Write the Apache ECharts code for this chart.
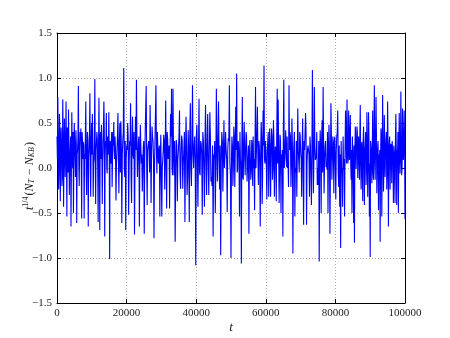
<!DOCTYPE html>
<html>
<head>
<meta charset="utf-8">
<script src="https://cdn.jsdelivr.net/npm/echarts@6/dist/echarts.min.js"></script>
<style>
html,body{margin:0;padding:0;background:#fff;}
#chart{width:450px;height:338px;}
</style>
</head>
<body>
<div id="chart"></div>
<script>
// values, one array per sixth of the t range
// segN = spike tips, coreN = the dense band between the spikes
var tMax = 100000;
var yTicks = [-1.5, -1.0, -0.5, 0.0, 0.5, 1.0, 1.5];
var xTicks = [0, 20000, 40000, 60000, 80000, 100000];
var seg1 = [0.35,0.79,-0.24,0.6,-0.37,0.45,-0.2,0.76,-0.43,0.55,-0.1,0.74,-0.54,0.3,0.65,-0.3,0.2,-0.65,0.62,0.0,-0.5,0.5,0.1,0.42,-0.61,0.2,0.91,-0.2,0.4,0.44,-0.56,0.3,0.29,-0.56,0.1,0.74,-0.3,0.4,-0.65,0.2,0.83,-0.32,0.5,0.6,-0.32,0.1,0.99,-0.4,0.3,0.31,-0.6,0.78,-0.69,0.4,0.48,-0.4,0.2,0.74,-0.76,0.3,0.61,-0.06,0.3,0.62,-1.01,0.2,0.28,-0.21,0.4,0.51,0.1];
var seg2 = [0.35,-0.36,0.2,0.61,-0.28,0.5,0.52,-0.61,0.3,1.11,-0.1,-0.69,0.25,0.5,-0.52,0.3,0.72,-0.39,0.57,0.1,-0.74,0.57,0.98,-0.1,0.3,-0.65,0.48,0.05,-0.26,0.23,-0.73,0.4,0.91,-0.41,0.2,0.2,0.7,-0.39,0.46,0.3,-0.78,0.3,0.92,-0.06,0.18,0.2,-0.54,0.37,-0.54,0.1,0.37,-0.24,0.75,-0.45,0.33,0.1,-0.45,0.6,0.88,-0.08];
var seg3 = [0.88,-0.08,-0.82,0.31,-0.37,0.2,0.64,-0.23,0.36,-0.23,0.2,-0.6,0.57,-0.3,0.42,-0.6,0.72,-0.2,0.92,0.0,0.35,-1.08,0.48,-0.43,0.77,-0.08,0.27,-0.52,0.31,-0.43,0.7,-0.3,0.6,-0.3,0.62,-0.15,-0.2,-0.76,0.1,-0.5,0.88,-0.15,0.74,-0.24,-0.97,0.4,-0.26,0.53,0.13,0.2,-0.49,0.33,0.92,-0.08];
var seg4 = [-1.0,0.35,-0.2,0.46,-0.21,0.68,1.05,-0.02,0.27,-0.54,0.09,-1.06,0.79,-0.13,0.51,-0.08,0.4,-0.15,-0.02,-0.73,0.31,-0.13,0.31,-0.2,0.0,-0.47,0.9,0.0,0.68,-0.19,0.24,-0.65,0.51,-0.4,0.64,1.14,0.05,0.18,-0.35,0.18,-0.32,0.44,-0.32,0.44,-0.13,0.53,-0.32,0.24,-0.37,0.88,0.76,-0.39,0.37,-0.5,0.0,-0.76,0.98,0.0,0.42,0.01,0.0,-0.21];
var seg5 = [0.92,0.4,-0.21,0.55,-0.95,0.1,-0.54,-0.05,-0.32,0.66,0.2,0.4,0.16,-0.32,0.55,-0.63,0.2,0.61,-0.63,0.2,0.2,-0.32,0.24,-0.41,1.09,-0.28,0.9,0.09,0.13,-0.19,-0.19,-1.04,0.42,-0.5,0.53,0.9,-0.28,0.24,0.01,-0.02,-0.5,0.48,-0.73,0.72,-0.13,0.35,-0.28,0.35,-0.35,0.35,0.64,-0.21,-0.43,-0.89,-0.06,-0.43,-0.02,-0.54,0.64,0.05];
var seg6 = [0.76,0.05,0.64,0.09,0.59,-0.13,-0.5,0.2,-0.61,-0.83,0.46,-0.01,0.46,-0.11,0.35,-0.13,0.7,-0.24,0.29,-0.37,0.46,-0.41,0.25,-0.19,0.62,-0.32,0.62,-0.54,-0.99,0.24,-0.17,0.64,-0.13,0.92,-0.13,0.79,-0.28,0.22,-0.47,-0.13,-0.82,0.44,-0.54,0.81,-0.26,0.59,-0.1,0.22,-0.24,0.74,-0.65,0.29,-0.24,0.27,-0.17,0.29,-0.39,0.18,-0.39,0.6,-0.41,0.16,-0.5,0.61,-0.06,0.85,-0.08,0.66,0.09,0.64,-0.57];
var core1 = [0.1,0.3,0.0,0.4,0.15,0.25,-0.1,0.35,0.05,0.2,0.3,0.1,0.45,-0.05,0.25,0.1,0.35,0.0,0.2,0.4,0.1,0.3,-0.1,0.25,0.15,0.35,0.05,0.2,0.3,0.0,0.4,0.1,0.25,0.15,0.35,-0.05,0.2,0.3,0.1,0.4,0.0,0.25,0.15,0.35,0.05,0.3,0.1,0.2,0.4,0.0,0.25,0.15,0.35,0.1,0.3,0.05,0.2,0.4,0.1,0.25,0.0,0.35,0.15,0.2,0.3,0.05,0.4,0.1,0.25,0.2,0.3];
var core2 = [0.2,0.05,0.35,0.1,0.3,-0.05,0.25,0.15,0.4,0.0,0.3,0.1,0.2,0.35,0.05,0.25,-0.1,0.3,0.15,0.4,0.0,0.2,0.3,0.1,0.35,0.05,0.25,0.15,0.0,0.3,0.1,0.4,0.05,0.2,0.3,-0.05,0.25,0.15,0.35,0.1,0.0,0.3,0.2,0.4,0.05,0.25,0.1,0.35,0.0,0.2,0.3,0.15,0.05,0.4,0.1,0.25,0.2,0.35,0.0,0.3];
var core3 = [0.15,0.3,0.0,0.25,0.1,0.35,-0.05,0.2,0.3,0.05,0.4,0.1,0.25,-0.1,0.2,0.35,0.0,0.3,0.15,0.25,0.05,0.35,0.1,0.2,-0.05,0.3,0.15,0.4,0.0,0.25,0.1,0.3,0.05,0.2,0.35,-0.1,0.25,0.15,0.3,0.0,0.2,0.35,0.1,0.25,0.05,0.3,0.15,0.0,0.4,0.1,0.2,0.3,0.05,0.25];
var core4 = [0.1,0.25,0.0,0.35,0.15,0.2,-0.05,0.3,0.1,0.4,0.05,0.25,-0.1,0.3,0.15,0.2,0.35,0.0,0.25,0.1,0.3,-0.05,0.2,0.35,0.1,0.25,0.0,0.4,0.15,0.3,0.05,0.2,0.35,-0.1,0.25,0.1,0.3,0.0,0.2,0.4,0.05,0.25,0.15,0.35,0.0,0.3,0.1,0.2,0.35,0.05,0.25,-0.05,0.3,0.15,0.2,0.4,0.0,0.25,0.1,0.35,0.05,0.2];
var core5 = [0.2,0.35,0.05,0.25,0.1,0.4,0.0,0.3,0.15,0.2,-0.05,0.35,0.1,0.25,0.0,0.3,0.2,0.4,0.05,0.25,0.15,0.35,-0.1,0.2,0.3,0.05,0.25,0.1,0.4,0.0,0.3,0.15,0.2,0.35,-0.05,0.25,0.1,0.3,0.05,0.4,0.15,0.2,0.0,0.35,0.1,0.25,0.3,0.05,0.2,0.4,-0.05,0.25,0.15,0.3,0.0,0.35,0.1,0.2,0.3,0.05];
var core6 = [0.3,0.1,0.25,0.4,0.05,0.2,0.35,-0.05,0.25,0.15,0.3,0.0,0.4,0.1,0.2,0.35,0.05,0.25,-0.1,0.3,0.15,0.2,0.4,0.0,0.25,0.1,0.35,0.05,0.3,0.15,0.2,-0.05,0.35,0.1,0.25,0.4,0.0,0.3,0.15,0.2,0.05,0.35,0.1,0.25,-0.05,0.3,0.2,0.4,0.0,0.25,0.15,0.35,0.05,0.2,0.3,0.1,0.25,-0.1,0.35,0.15,0.2,0.4,0.05,0.3,0.1,0.25,0.0,0.35,0.2,0.3,0.1];

var segs = [seg1, seg2, seg3, seg4, seg5, seg6];
var cores = [core1, core2, core3, core4, core5, core6];
var span = tMax / segs.length;
var points = [];
segs.forEach(function(seg, k){
	//尖峰与中间带交替
	var vals = [];
	seg.forEach(function(v, i){
		vals.push(v);
		if(i < seg.length - 1 && cores[k][i] !== undefined){
			vals.push(cores[k][i]);
		}
	});
	var last = (k == segs.length - 1);
	var n = last ? vals.length - 1 : vals.length;
	vals.forEach(function(v, i){
		points.push([k * span + i * span / n, v]);
	});
});

var serif = 'Liberation Serif';
function fmtY(v){
	var s = Math.abs(v).toFixed(1);
	return (v < 0 ? '\u2212' : '') + s;
}
var labelStyle = {color:'#222', fontFamily:serif, fontSize:11};
var axLine = {show:true, onZero:false, lineStyle:{color:'#000', width:1}};
var gridLine = {show:true, lineStyle:{color:'#aaa', type:[1,2], width:1}};
var ticks = {show:true, inside:true, length:4, lineStyle:{color:'#000'}};

var chart = echarts.init(document.getElementById('chart'), null, {renderer:'canvas'});
chart.setOption({
	animation:false,
	backgroundColor:'#fff',
	grid:{left:57, right:45, top:33, bottom:35, containLabel:false, outerBoundsMode:'none'},
	xAxis:[{
		type:'value', min:xTicks[0], max:xTicks[xTicks.length-1], interval:20000,
		position:'bottom',
		name:'t', nameLocation:'middle', nameGap:18, nameMoveOverlap:false,
		nameTextStyle:{fontFamily:serif, fontStyle:'italic', fontSize:13, color:'#222'},
		axisLine:axLine, axisTick:ticks,
		axisLabel:Object.assign({margin:5, formatter:function(v){ return String(v); }}, labelStyle),
		splitLine:gridLine
	},{
		type:'value', min:xTicks[0], max:xTicks[xTicks.length-1], interval:20000,
		position:'top',
		axisLine:axLine, axisTick:ticks,
		axisLabel:{show:false}, splitLine:{show:false}
	}],
	yAxis:[{
		type:'value', min:yTicks[0], max:yTicks[yTicks.length-1], interval:0.5,
		position:'left',
		name:'{i|t}{sup|1/4}{n|(}{i|N}{sub|T}{n| \u2212 }{i|N}{sub|KB}{n|)}',
		nameLocation:'middle', nameGap:20, nameRotate:90, nameMoveOverlap:false,
		nameTextStyle:{
			color:'#222', fontFamily:serif, fontSize:12, padding:[0,16,0,0],
			rich:{
				i:{fontFamily:serif, fontStyle:'italic', fontSize:12, color:'#222'},
				n:{fontFamily:serif, fontSize:12, color:'#222'},
				sup:{fontFamily:serif, fontSize:8, color:'#222', padding:[0,1,7,0]},
				sub:{fontFamily:serif, fontStyle:'italic', fontSize:8, color:'#222', padding:[5,1,0,0]}
			}
		},
		axisLine:axLine, axisTick:ticks,
		axisLabel:Object.assign({margin:5, formatter:fmtY}, labelStyle),
		splitLine:gridLine
	},{
		type:'value', min:yTicks[0], max:yTicks[yTicks.length-1], interval:0.5,
		position:'right',
		axisLine:axLine, axisTick:ticks,
		axisLabel:{show:false}, splitLine:{show:false}
	}],
	series:[{
		type:'line',
		data:points,
		showSymbol:false,
		lineStyle:{color:'#0000ff', width:1.1},
		itemStyle:{color:'#0000ff'},
		z:3
	}]
});
</script>
</body>
</html>
